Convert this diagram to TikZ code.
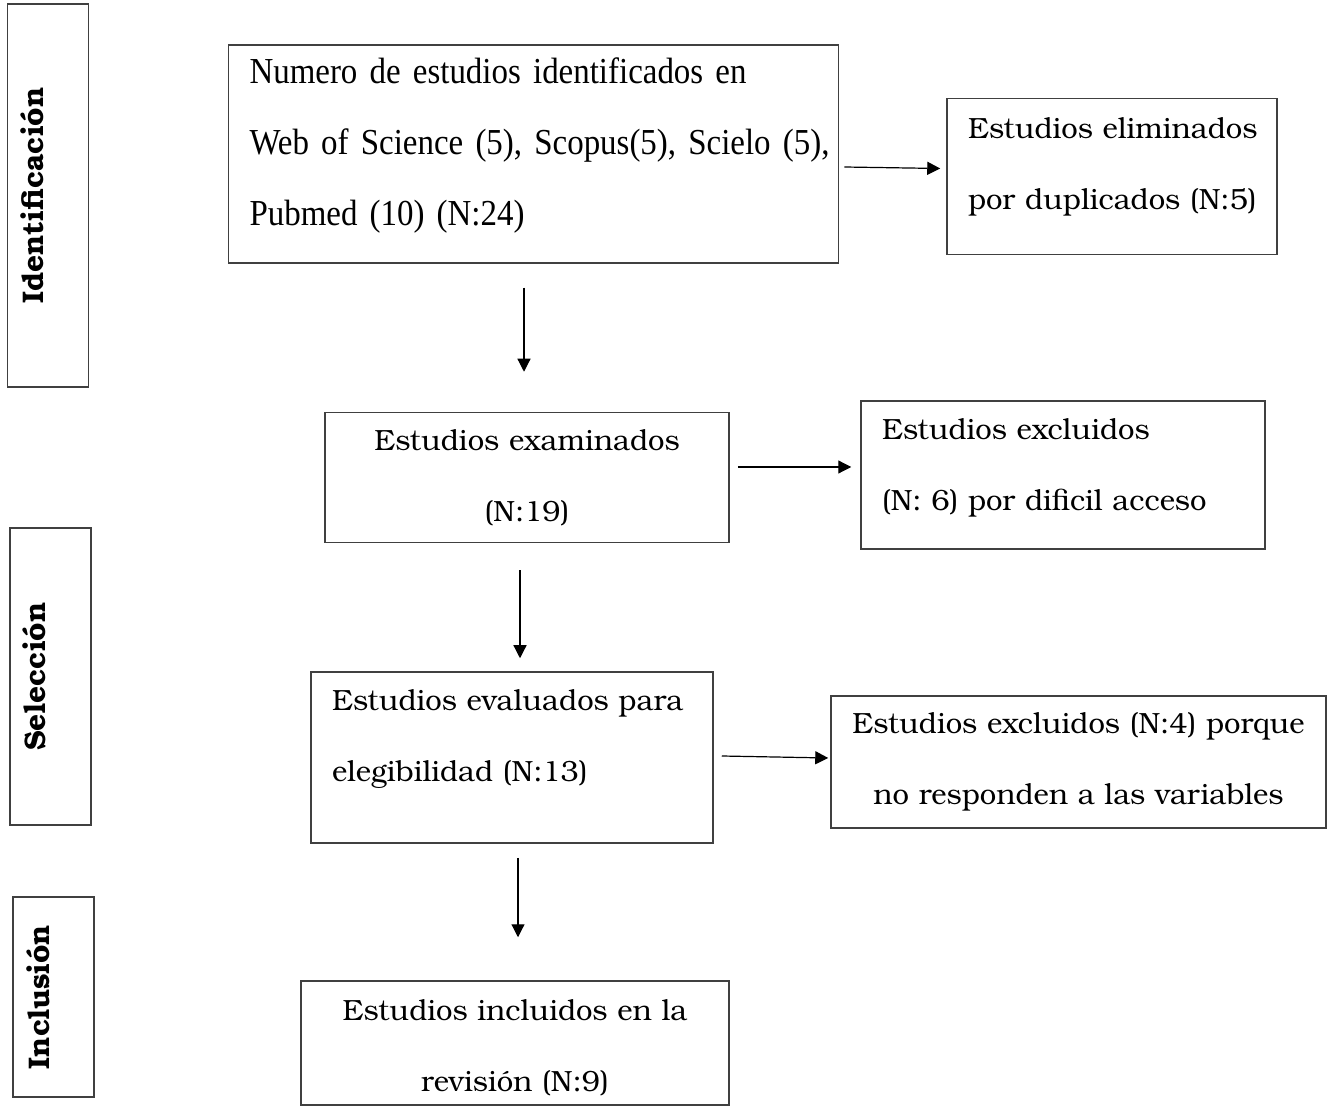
\documentclass[tikz,border=0pt]{standalone}
\usepackage{fontspec}
\setmainfont{TeX Gyre Bonum}
\newfontfamily\timesfont[FakeStretch=0.9]{Liberation Serif}
\usepackage{tikz}
\usetikzlibrary{calc}
\usetikzlibrary{arrows.meta}
\usetikzlibrary{positioning}
% extra room under the last line of a box
\newcommand{\belowpad}[1]{\par\vspace*{#1}\hrule height 0pt depth 0pt}

\begin{document}
\begin{tikzpicture}[x=0.5pt,y=-0.5pt]
  % some styles
  \tikzset{
    stage/.style={
      rectangle,
      draw=black!75,
      line width=0.75pt,
      rotate=90,
      inner sep=0pt,
      text height=18pt,
      text depth=22.5pt,
      font=\bfseries\fontsize{14.9pt}{16pt}\selectfont
    },
    box/.style={
      rectangle,
      draw=black!75,
      line width=0.75pt,
      inner xsep=10.5pt,
      inner ysep=0pt,
      font=\fontsize{14.6pt}{35.5pt}\selectfont
    },
    midbox/.style={box,inner xsep=2pt,align=center}
  }
 \tikzset{arr/.style={-{Triangle[length=6.5pt,width=6.5pt]},line width=0.6pt}}

\useasboundingbox (0,0) rectangle (1328,1106);

% phases on the left
\node[stage,minimum width=191.5pt] (ident) at (48,195.5) {Identificación};
\node[stage,minimum width=148.5pt] (selec) at (50.5,676.5) {Selección};
\node[stage,minimum width=100pt] (inclu) at (53.5,997) {Inclusión};

% boxes
\node[box,text width=284pt,align=left,minimum height=109pt,
      font=\timesfont\fontsize{18.3pt}{35.5pt}\selectfont] (ident1) at (533.5,154)
  {\makebox[284pt][s]{Numero de estudios identificados en}\\
   \makebox[284pt][s]{Web of Science (5), Scopus(5), Scielo (5),}\\
   Pubmed (10) (N:24)\belowpad{8pt}};
\node[box,text width=144pt,align=left,minimum height=78pt] (dupli) at (1112,176.5)
  {\mbox{Estudios eliminados}\\\mbox{por duplicados (N:5)}\belowpad{10pt}};
\node[midbox,text width=198pt,minimum height=65pt] (exam) at (527,477.5)
  {Estudios examinados\\(N:19)};
\node[box,text width=181pt,align=left,minimum height=74pt] (excl1) at (1063,475)
  {Estudios excluidos\\\mbox{(N: 6) por dificil acceso}\belowpad{7pt}};
\node[box,text width=180pt,align=left,minimum height=85.5pt] (evalu) at (512,757.5)
  {\mbox{Estudios evaluados para}\\elegibilidad (N:13)\belowpad{18pt}};
\node[midbox,text width=243.5pt,minimum height=66pt] (excl2) at (1078.5,762)
  {\mbox{Estudios excluidos (N:4) porque}\\no responden a las variables};
\node[midbox,text width=210pt,minimum height=62pt] (inclu1) at (515,1043)
  {Estudios incluidos en la\\revisión (N:9)\belowpad{-5pt}};

% arrows
\draw[arr] ([xshift=2.5pt,yshift=-6.5pt]ident1.east) -- ([xshift=-3pt,yshift=4pt]dupli.west);
\draw[arr] ([xshift=-4.75pt,yshift=-12pt]ident1.south) -- ([xshift=-1.5pt,yshift=20pt]exam.north);
\draw[arr] ([xshift=4pt,yshift=5.25pt]exam.east) -- ([xshift=-4.5pt,yshift=4pt]excl1.west);
\draw[arr] ([xshift=-3.5pt,yshift=-13.5pt]exam.south) -- ([xshift=4pt,yshift=6.5pt]evalu.north);
\draw[arr] ([xshift=4pt,yshift=0.75pt]evalu.east) -- ([xshift=-1pt,yshift=2pt]excl2.west);
\draw[arr] ([xshift=3pt,yshift=-7pt]evalu.south) -- ([xshift=1.5pt,yshift=21.5pt]inclu1.north);

\end{tikzpicture}
\end{document}
